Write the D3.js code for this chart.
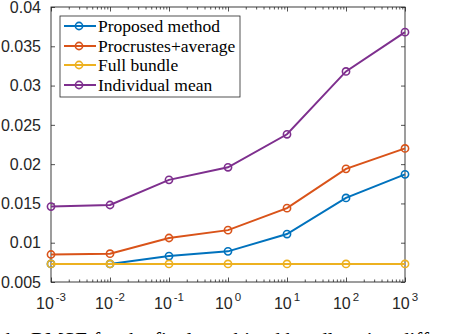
<!DOCTYPE html>
<html>
<head>
<meta charset="utf-8">
<script src="https://cdn.jsdelivr.net/npm/d3@7"></script>
<style>
  body { margin: 0; background: #fff; }
  svg { display: block; }
</style>
</head>
<body>
<div id="chart"></div>
<script>
/* data */
const lambdas = [1e-3, 1e-2, 1e-1, 1e0, 1e1, 1e2, 1e3];
const proposed = [0.0073, 0.0073, 0.0083, 0.0089, 0.0111, 0.0157, 0.0187];
const procrustes = [0.0085, 0.0086, 0.0106, 0.0116, 0.0144, 0.0194, 0.0220];
const fullBundle = [0.0073, 0.0073, 0.0073, 0.0073, 0.0073, 0.0073, 0.0073];
const indivMean = [0.0146, 0.0148, 0.0180, 0.0196, 0.0238, 0.0318, 0.0368];
const seriesNames = ["Proposed method", "Procrustes+average", "Full bundle", "Individual mean"];
const seriesColors = ["#0072BD", "#D95319", "#EDB120", "#7E2F8E"];
const yTicks = [0.005, 0.01, 0.015, 0.02, 0.025, 0.03, 0.035, 0.04];
const xExponents = [-3, -2, -1, 0, 1, 2, 3];

const width = 450, height = 334;
const plotLeft = 51, plotRight = 405, plotTop = 7, plotBottom = 282;
const axisColor = "#262626";

const svg = d3.select("#chart").append("svg")
    .attr("width", width)
    .attr("height", height);

var x = d3.scaleLog()
    .domain([1e-3, 1e3])
    .range([plotLeft, plotRight]);

var y = d3.scaleLinear()
    .domain([0.005, 0.04])
    .range([plotBottom, plotTop]);

/* minor ticks on the log axis: 2..9 x 10^k */
let minor = [];
for (let k = -3; k < 3; k++) {
    for (let m = 2; m <= 9; m++) minor.push(m * Math.pow(10, k));
}

function styleAxis(g) {
    g.select(".domain").remove();
    g.selectAll(".tick line").attr("stroke", axisColor).attr("stroke-width", 0.8);
    g.selectAll(".tick text").remove();
}

/* x ticks bottom and top (inward) */
svg.append("g").attr("transform", "translate(0," + plotBottom + ")")
    .call(d3.axisBottom(x).tickValues(lambdas).tickSizeInner(-4.5).tickSizeOuter(0)).call(styleAxis);
svg.append("g").attr("transform", "translate(0," + plotBottom + ")")
    .call(d3.axisBottom(x).tickValues(minor).tickSizeInner(-2.5).tickSizeOuter(0)).call(styleAxis);
svg.append("g").attr("transform", "translate(0," + plotTop + ")")
    .call(d3.axisTop(x).tickValues(lambdas).tickSizeInner(-4.5).tickSizeOuter(0)).call(styleAxis);
svg.append("g").attr("transform", "translate(0," + plotTop + ")")
    .call(d3.axisTop(x).tickValues(minor).tickSizeInner(-2.5).tickSizeOuter(0)).call(styleAxis);

/* y ticks left and right (inward) */
svg.append("g").attr("transform", "translate(" + plotLeft + ",0)")
    .call(d3.axisLeft(y).tickValues(yTicks).tickSizeInner(-4).tickSizeOuter(0)).call(styleAxis);
svg.append("g").attr("transform", "translate(" + plotRight + ",0)")
    .call(d3.axisRight(y).tickValues(yTicks).tickSizeInner(-4).tickSizeOuter(0)).call(styleAxis);

/* box */
svg.append("rect")
    .attr("x", plotLeft).attr("y", plotTop)
    .attr("width", plotRight - plotLeft).attr("height", plotBottom - plotTop)
    .attr("fill", "none")
    .attr("stroke", axisColor)
    .attr("stroke-width", 0.9);

/* y tick labels */
svg.selectAll(".ylab").data(yTicks).enter()
    .append("text")
    .attr("class", "ylab")
    .attr("x", plotLeft - 10)
    .attr("y", d => y(d))
    .attr("dy", "0.36em")
    .attr("text-anchor", "end")
    .style("font-family", "Liberation Sans, Arial, sans-serif")
    .style("font-size", "16px")
    .style("fill", axisColor)
    .text(d => "" + (+d.toFixed(3)));

/* x tick labels 10^k */
const xlab = svg.selectAll(".xlab").data(xExponents).enter()
    .append("text")
    .attr("class", "xlab")
    .attr("x", d => x(Math.pow(10, d)))
    .attr("y", 309)
    .attr("text-anchor", "middle")
    .style("font-family", "Liberation Sans, Arial, sans-serif")
    .style("font-size", "16px")
    .style("fill", axisColor);
xlab.append("tspan").text("10");
xlab.append("tspan")
    .attr("dy", -8)
    .attr("dx", 2)
    .style("font-size", "11.5px")
    .text(d => d < 0 ? "-" + (-d) : "" + d);

/* lines and markers */
const allSeries = [proposed, procrustes, fullBundle, indivMean];
const line = d3.line()
    .x((d, i) => x(lambdas[i]))
    .y(d => y(d));

// yellow drawn last so it sits over blue at the start
const drawOrder = [0, 1, 3, 2];
for (const s of drawOrder) {
    svg.append("path")
        .datum(allSeries[s])
        .attr("d", line)
        .attr("fill", "none")
        .attr("stroke", seriesColors[s])
        .attr("stroke-width", 2);
    svg.selectAll(".mk" + s).data(allSeries[s]).enter()
        .append("circle")
        .attr("class", "mk" + s)
        .attr("cx", (d, i) => x(lambdas[i]))
        .attr("cy", d => y(d))
        .attr("r", 3.6)
        .attr("fill", "none")
        .attr("stroke", seriesColors[s])
        .attr("stroke-width", 1.6);
}

/* legend */
const legX = 60, legY = 16, legW = 180, legH = 81;
svg.append("rect")
    .attr("x", legX).attr("y", legY)
    .attr("width", legW).attr("height", legH)
    .attr("fill", "#fff")
    .attr("stroke", axisColor)
    .attr("stroke-width", 0.8);

const legRows = [26, 46, 65, 85];
seriesNames.forEach((name, i) => {
    const ly = legRows[i];
    svg.append("line")
        .attr("x1", 64).attr("x2", 96)
        .attr("y1", ly).attr("y2", ly)
        .attr("stroke", seriesColors[i])
        .attr("stroke-width", 2);
    svg.append("circle")
        .attr("cx", 79).attr("cy", ly)
        .attr("r", 3.6)
        .attr("fill", "none")
        .attr("stroke", seriesColors[i])
        .attr("stroke-width", 1.6);
    svg.append("text")
        .attr("x", 98)
        .attr("y", ly)
        .attr("dy", "0.33em")
        .style("font-family", "Liberation Serif, Times New Roman, serif")
        .style("font-size", "17.5px")
        .style("fill", "#000")
        .text(name);
});

/* caption fragment, cut off at the bottom edge as in the source */
svg.append("text")
    .attr("x", 0)
    .attr("y", 347)
    .style("font-family", "Liberation Serif, Times New Roman, serif")
    .style("font-size", "21px")
    .style("fill", "#000")
    .text("the RMSE for the final combined bundle using different");
</script>
</body>
</html>
